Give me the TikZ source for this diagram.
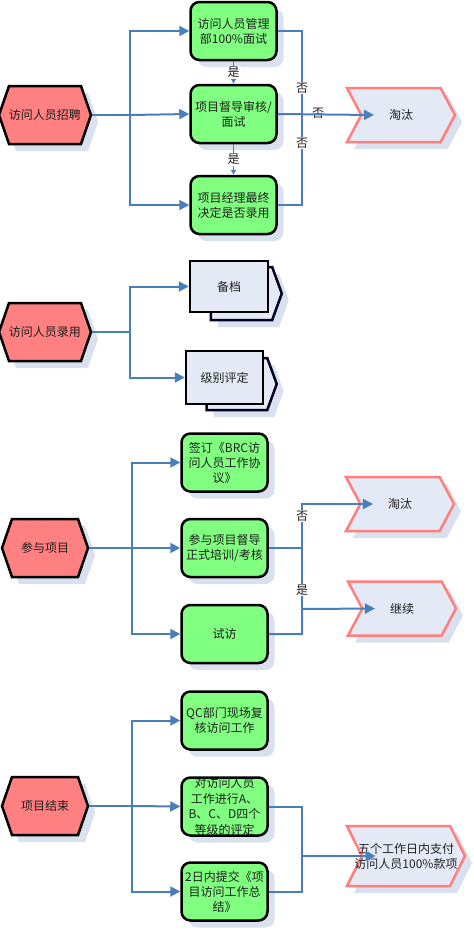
\documentclass[tikz,border=0pt]{standalone}
\usepackage{fontspec}
\setmainfont{Liberation Serif}
\newfontfamily\cjk{Noto Sans CJK SC}
\usetikzlibrary{shapes.symbols,shadows,arrows.meta}
\definecolor{conn}{HTML}{4A7EBB}
\definecolor{hexred}{HTML}{FF8080}
\definecolor{boxgreen}{HTML}{80FF80}
\definecolor{chevred}{HTML}{FF7F7F}
\definecolor{chevfill}{HTML}{E4EAF5}
\definecolor{shadowc}{HTML}{D9E1EE}
\definecolor{txt}{HTML}{202020}
\tikzset{
  shad/.style={drop shadow={shadow xshift=7pt, shadow yshift=-7pt, fill=shadowc, opacity=1}},
  lbl/.style={font=\cjk\fontsize{12}{15}\selectfont, text=txt, align=center},
  hexbox/.style={signal, signal to=west and east, signal pointer angle=142, draw=black, line width=2.5pt,
    fill=hexred, minimum width=86pt, minimum height=58pt, inner sep=0pt, shad, lbl},
  greenbox/.style={rectangle, rounded corners=9pt, draw=black, line width=2.5pt, fill=boxgreen,
    minimum width=86pt, minimum height=58pt, text width=84pt, inner sep=0pt, shad, lbl},
  chev/.style={signal, signal to=east, signal from=west, signal pointer angle=124, draw=chevred,
    line width=2.5pt, fill=chevfill, minimum width=108pt, minimum height=54pt, inner sep=0pt, shad, lbl},
  stackback/.style={signal, signal to=east, signal pointer angle=140, draw=black!85!blue, line width=2.5pt,
    fill=chevfill, inner sep=0pt, shad},
  stackfront/.style={rectangle, draw=black, line width=2.5pt, fill=chevfill, inner sep=0pt, lbl},
  flow/.style={draw=conn, line width=2pt},
  flowarrow/.style={flow, -{Triangle[length=10pt,width=10pt]}},
  smallarrow/.style={flow, line width=1.4pt, -{Triangle[length=5pt,width=5pt]}},
  tag/.style={lbl, fill=white, inner sep=1pt},
  tagclear/.style={lbl, inner sep=1pt},
}
\begin{document}
\begin{tikzpicture}[x=1pt,y=-1pt]
\useasboundingbox[fill=white] (0,0) rectangle (474,930);

% ---------- Section 1 ----------
\node[hexbox] (h1) at (45,115) {访问人员招聘};
\node[greenbox] (g1) at (233.5,31) {访问人员管理\\部100\%面试};
\node[greenbox] (g2) at (233.5,114) {项目督导审核/\\面试};
\node[greenbox] (g3) at (233.5,205) {项目经理最终\\决定是否录用};
\node[chev] (t1) at (401,115) {淘汰};
\coordinate (t1n) at ([xshift=14pt]t1.west);
\coordinate (j1) at (130,115);
\coordinate (n1) at (302,115);
\draw[flow] (h1.east) -- (j1);
\draw[flowarrow] (j1) |- (g1.west);
\draw[flowarrow] (j1) -- (g2.west);
\draw[flowarrow] (j1) |- (g3.west);
\draw[flow] (g1.east) -| (n1);
\draw[flow] (g3.east) -| (n1);
\node[tag] (f1) at (302,88) {否};
\node[tag] (f3) at (302,143) {否};
\node[tagclear] (f2) at (318,113) {否};
\draw[flowarrow] (g2.east) -- (t1n);
\draw[smallarrow] (g1.south) -- (g2.north) node[tag, midway] (y1) {是};
\draw[smallarrow] (g2.south) -- (g3.north) node[tag, midway] (y2) {是};

% ---------- Section 2 ----------
\node[hexbox] (h2) at (45,332) {访问人员录用};
\node[stackback, minimum width=71pt, minimum height=53pt] (a1b) at (241.5,293.5) {};
\node[stackfront, minimum width=78pt, minimum height=51pt] (a1) at (229,286.5) {备档};
\node[stackback, minimum width=70pt, minimum height=52pt] (a2b) at (237,384) {};
\node[stackfront, minimum width=77pt, minimum height=53pt] (a2) at (224.5,377.5) {级别评定};
\coordinate (j2) at (130,332);
\draw[flow] (h2.east) -- (j2);
\draw[flowarrow] (j2) |- (a1.west);
\draw[flowarrow] (j2) |- (a2.west);

% ---------- Section 3 ----------
\node[hexbox] (h3) at (45,548) {参与项目};
\node[greenbox] (g4) at (224.5,462.5) {签订《BRC访\\问人员工作协\\议》};
\node[greenbox] (g5) at (224.5,548) {参与项目督导\\正式培训/考核};
\node[greenbox] (g6) at (224.5,634) {试访};
\node[chev] (t2) at (400,504) {淘汰};
\node[chev] (c1) at (402,608.5) {继续};
\coordinate (t2n) at ([xshift=14pt]t2.west);
\coordinate (c1n) at ([xshift=14pt]c1.west);
\coordinate (j3) at (132,548);
\coordinate (n3a) at (302,504);
\coordinate (n3b) at (302,609);
\draw[flow] (h3.east) -- (j3);
\draw[flowarrow] (j3) |- (g4.west);
\draw[flowarrow] (j3) -- (g5.west);
\draw[flowarrow] (j3) |- (g6.west);
\draw[flow] (n3a) -- (n3b);
\draw[flowarrow] (g5.east) -| (n3a) -- (t2n);
\draw[flowarrow] (g6.east) -| (n3b) -- (c1n);
\node[tag] (f4) at (302,516) {否};
\node[tag] (y3) at (302,590) {是};

% ---------- Section 4 ----------
\node[hexbox] (h4) at (45,806) {项目结束};
\node[greenbox, font=\cjk\fontsize{12}{15.5}\selectfont] (g8) at (224.5,806.5) {对访问人员\\工作进行A、\\B、C、D四个\\等级的评定};
\node[greenbox] (g7) at (224.5,720.5) {QC部门现场复\\核访问工作};
\node[greenbox] (g9) at (224.5,891.5) {2日内提交《项\\目访问工作总\\结》};
\node[chev, minimum width=118pt, minimum height=60pt, signal pointer angle=127] (p1) at (406,856) {};
\node[lbl] (p1t) at (p1.center) {五个工作日内支付\\访问人员100\%款项};
\coordinate (p1n) at ([xshift=15pt]p1.west);
\coordinate (j4) at (132,806);
\coordinate (n4) at (302,856);
\draw[flow] (h4.east) -- (j4);
\draw[flowarrow] (j4) |- (g7.west);
\draw[flowarrow] (j4) -- (g8.west);
\draw[flowarrow] (j4) |- (g9.west);
\draw[flow] (g8.east) -| (n4);
\draw[flow] (g9.east) -| (n4);
\draw[flowarrow] (n4) -- (p1n);
\end{tikzpicture}
\end{document}
